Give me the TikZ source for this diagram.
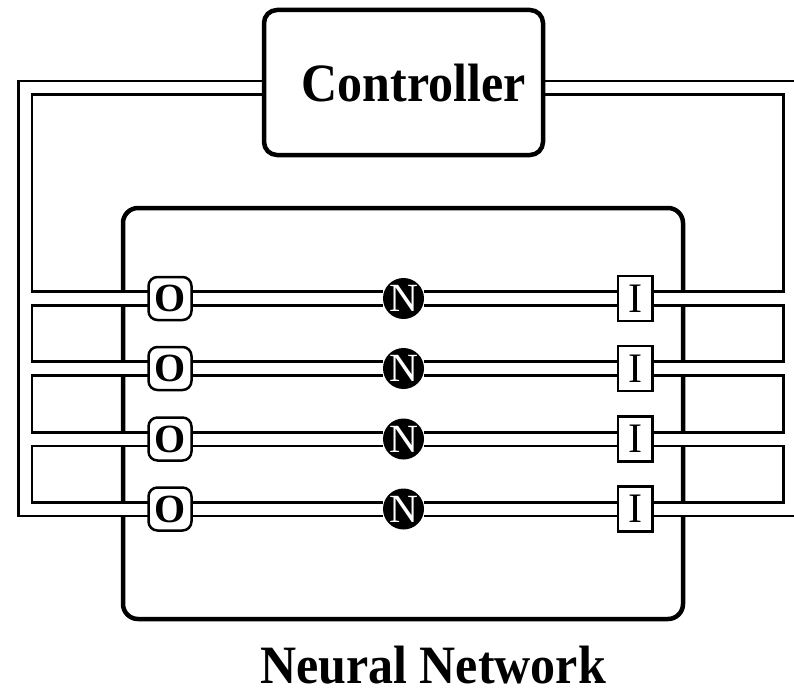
\documentclass[tikz,border=0pt]{standalone}
\usepackage{fontspec}
\setmainfont{Liberation Serif}
\pgfdeclarelayer{back}
\pgfdeclarelayer{pipe}
\pgfsetlayers{back,pipe,main}
\begin{document}
\begin{tikzpicture}[x=1pt,y=-1pt,
  pipeout/.style={line width=16.5pt, draw=black, line cap=butt, line join=miter},
  pipein/.style={line width=11pt, draw=white, line cap=butt, line join=miter},
  bigbox/.style={draw=black, fill=white, line width=4.5pt, inner sep=0pt, outer sep=0pt},
  obox/.style={draw=black, fill=white, line width=2.5pt, rounded corners=9pt, minimum width=43pt, minimum height=43pt, inner sep=0pt, outer sep=0pt, font=\fontsize{40}{44}\selectfont\bfseries},
  ibox/.style={draw=black, fill=white, line width=2.3pt, minimum width=34.5pt, minimum height=45pt, inner sep=0pt, outer sep=0pt, font=\fontsize{42}{46}\selectfont},
  ncirc/.style={circle, fill=black, text=white, minimum size=41pt, inner sep=0pt, outer sep=0pt, font=\fontsize{40}{44}\selectfont},
  lbl/.style={font=\fontsize{50}{60}\selectfont\bfseries, anchor=base, inner sep=0pt}
]
\useasboundingbox (0,0) rectangle (794,690);

% boxes and elements
\begin{pgfonlayer}{back}
\node[bigbox, rounded corners=15pt, minimum width=560pt, minimum height=411pt] (nn) at (403,413.5) {};
\end{pgfonlayer}
\node[lbl] (nnlabel) at (433,683) {\scalebox{1}[1.08]{Neural Network}};

\node[bigbox, rounded corners=13pt, minimum width=279pt, minimum height=145pt] (ctrl) at (403.5,82.5) {};
\node[lbl] (ctrllabel) at (413.5,102) {\scalebox{1}[1.08]{Controller}};

\foreach \i/\y in {1/298.5,2/368.5,3/439,4/509}{
  \node[obox] (O\i) at (170,\y) {O};
  \node[ncirc] (N\i) at (403.5,\y) {N};
  \node[ibox] (I\i) at (635.3,\y) {I};
}

\coordinate (cl) at (264,88);
\coordinate (cr) at (543,88);
\coordinate (tl) at (25,88);
\coordinate (bl) at (25,509);
\coordinate (tr) at (790.5,88);
\coordinate (br) at (790.5,509);

\newcommand\drawpipes[1]{%
  \draw[#1] (cl) -- (tl) -- (bl) -- (O4);
  \draw[#1] (cr) -- (tr) -- (br) -- (I4);
  \foreach \k in {1,2,3}{
    \draw[#1] (tl |- O\k) -- (O\k);
    \draw[#1] (tr |- I\k) -- (I\k);
  }
  \foreach \k in {1,2,3,4}{
    \draw[#1] (O\k) -- (N\k) -- (I\k);
  }
}

\begin{pgfonlayer}{pipe}
\clip (0,0) rectangle (794,690);
\drawpipes{pipeout}
\drawpipes{pipein}
\end{pgfonlayer}
\end{tikzpicture}
\end{document}
